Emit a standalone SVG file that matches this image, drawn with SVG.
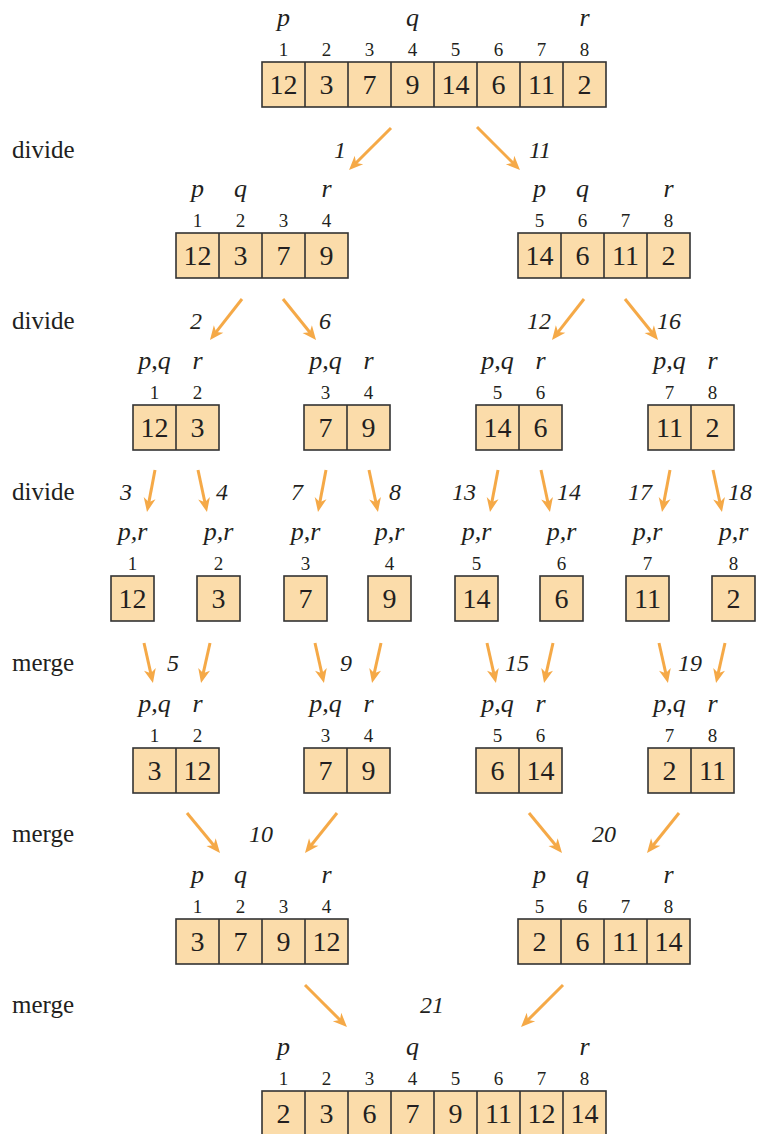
<svg xmlns="http://www.w3.org/2000/svg" width="757" height="1134" viewBox="0 0 757 1134" font-family="Liberation Serif">
<style>
text{fill:#231f20}
.v{font-size:28px;text-anchor:middle}
.i{font-size:19px;text-anchor:middle}
.l{font-size:26px;font-style:italic;text-anchor:middle}
.s{font-size:24px;font-style:italic;text-anchor:middle}
.side{font-size:25px}
.box{fill:#fbdcaa;stroke:#333;stroke-width:1.6}
.dv{stroke:#333;stroke-width:1.6}
.arr{stroke:#f5a947;stroke-width:3;fill:none;marker-end:url(#ah)}
</style>
<defs>
<marker id="ah" markerUnits="userSpaceOnUse" markerWidth="20" markerHeight="20" viewBox="-10 -10 20 20" refX="0" refY="0" orient="auto">
<path d="M-6,-6 L8,0 L-6,6 L-2,0 Z" fill="#f5a947"/>
</marker>
</defs>
<rect width="757" height="1134" fill="#fff"/>
<g id="side-labels">
<text class="side" x="12" y="158">divide</text>
<text class="side" x="12" y="329">divide</text>
<text class="side" x="12" y="500">divide</text>
<text class="side" x="12" y="671">merge</text>
<text class="side" x="12" y="842">merge</text>
<text class="side" x="12" y="1013">merge</text>
</g>
<g id="connectors">
<path class="arr" d="M391,128 L354.7,164.3"/>
<path class="arr" d="M477,127 L514.3,164.3"/>
<path class="arr" d="M242,299 L214.9,333.7"/>
<path class="arr" d="M283,299 L311,333.8"/>
<path class="arr" d="M584,299 L556.9,333.7"/>
<path class="arr" d="M625,299 L653,333.8"/>
<path class="arr" d="M155,470 L148.5,504.1"/>
<path class="arr" d="M198,470 L205.3,504.2"/>
<path class="arr" d="M326,470 L319.5,504.1"/>
<path class="arr" d="M369,470 L376.3,504.2"/>
<path class="arr" d="M498,470 L491.5,504.1"/>
<path class="arr" d="M541,470 L548.3,504.2"/>
<path class="arr" d="M670,470 L663.5,504.1"/>
<path class="arr" d="M713,470 L720.3,504.2"/>
<path class="arr" d="M144,643 L151.2,675.2"/>
<path class="arr" d="M210,643 L202.8,675.2"/>
<path class="arr" d="M315,643 L322.2,675.2"/>
<path class="arr" d="M381,643 L373.8,675.2"/>
<path class="arr" d="M487,643 L494.2,675.2"/>
<path class="arr" d="M553,643 L545.8,675.2"/>
<path class="arr" d="M659,643 L666.2,675.2"/>
<path class="arr" d="M725,643 L717.8,675.2"/>
<path class="arr" d="M187,813 L214.9,846.8"/>
<path class="arr" d="M337,813 L310,846.8"/>
<path class="arr" d="M529,813 L556.9,846.8"/>
<path class="arr" d="M679,813 L652,846.8"/>
<path class="arr" d="M305,985 L341.3,1021.3"/>
<path class="arr" d="M563,985 L526.7,1021.3"/>
<g id="step-labels">
<text class="s" x="340" y="158">1</text><text class="s" x="540" y="158">11</text>
<text class="s" x="196" y="329">2</text><text class="s" x="325" y="329">6</text><text class="s" x="539" y="329">12</text><text class="s" x="669" y="329">16</text>
<text class="s" x="126" y="500">3</text><text class="s" x="222" y="500">4</text><text class="s" x="297" y="500">7</text><text class="s" x="395" y="500">8</text>
<text class="s" x="464" y="500">13</text><text class="s" x="569" y="500">14</text><text class="s" x="640" y="500">17</text><text class="s" x="740" y="500">18</text>
<text class="s" x="173" y="671">5</text><text class="s" x="346" y="671">9</text><text class="s" x="517" y="671">15</text><text class="s" x="690" y="671">19</text>
<text class="s" x="261" y="842">10</text><text class="s" x="604" y="842">20</text><text class="s" x="432" y="1013">21</text>
</g>
</g>

<g id="a0">
<text class="l" x="283.5" y="26">p</text><text class="l" x="412.5" y="26">q</text><text class="l" x="584.5" y="26">r</text>
<text class="i" x="283.5" y="56">1</text><text class="i" x="326.5" y="56">2</text><text class="i" x="369.5" y="56">3</text><text class="i" x="412.5" y="56">4</text><text class="i" x="455.5" y="56">5</text><text class="i" x="498.5" y="56">6</text><text class="i" x="541.5" y="56">7</text><text class="i" x="584.5" y="56">8</text>
<rect class="box" x="262" y="62" width="344" height="45"/>
<path class="dv" d="M305,62V107M348,62V107M391,62V107M434,62V107M477,62V107M520,62V107M563,62V107"/>
<text class="v" x="283.5" y="94">12</text><text class="v" x="326.5" y="94">3</text><text class="v" x="369.5" y="94">7</text><text class="v" x="412.5" y="94">9</text><text class="v" x="455.5" y="94">14</text><text class="v" x="498.5" y="94">6</text><text class="v" x="541.5" y="94">11</text><text class="v" x="584.5" y="94">2</text>
</g>

<g id="a1L">
<text class="l" x="197.5" y="197">p</text><text class="l" x="240.5" y="197">q</text><text class="l" x="326.5" y="197">r</text>
<text class="i" x="197.5" y="227">1</text><text class="i" x="240.5" y="227">2</text><text class="i" x="283.5" y="227">3</text><text class="i" x="326.5" y="227">4</text>
<rect class="box" x="176" y="233" width="172" height="45"/>
<path class="dv" d="M219,233V278M262,233V278M305,233V278"/>
<text class="v" x="197.5" y="265">12</text><text class="v" x="240.5" y="265">3</text><text class="v" x="283.5" y="265">7</text><text class="v" x="326.5" y="265">9</text>
</g>
<g id="a1R">
<text class="l" x="539.5" y="197">p</text><text class="l" x="582.5" y="197">q</text><text class="l" x="668.5" y="197">r</text>
<text class="i" x="539.5" y="227">5</text><text class="i" x="582.5" y="227">6</text><text class="i" x="625.5" y="227">7</text><text class="i" x="668.5" y="227">8</text>
<rect class="box" x="518" y="233" width="172" height="45"/>
<path class="dv" d="M561,233V278M604,233V278M647,233V278"/>
<text class="v" x="539.5" y="265">14</text><text class="v" x="582.5" y="265">6</text><text class="v" x="625.5" y="265">11</text><text class="v" x="668.5" y="265">2</text>
</g>

<g id="a2-1">
<text class="l" x="154.5" y="369">p,q</text><text class="l" x="197.5" y="369">r</text>
<text class="i" x="154.5" y="399">1</text><text class="i" x="197.5" y="399">2</text>
<rect class="box" x="133" y="405" width="86" height="45"/><path class="dv" d="M176,405V450"/>
<text class="v" x="154.5" y="437">12</text><text class="v" x="197.5" y="437">3</text>
</g>
<g id="a2-2">
<text class="l" x="325.5" y="369">p,q</text><text class="l" x="368.5" y="369">r</text>
<text class="i" x="325.5" y="399">3</text><text class="i" x="368.5" y="399">4</text>
<rect class="box" x="304" y="405" width="86" height="45"/><path class="dv" d="M347,405V450"/>
<text class="v" x="325.5" y="437">7</text><text class="v" x="368.5" y="437">9</text>
</g>
<g id="a2-3">
<text class="l" x="497.5" y="369">p,q</text><text class="l" x="540.5" y="369">r</text>
<text class="i" x="497.5" y="399">5</text><text class="i" x="540.5" y="399">6</text>
<rect class="box" x="476" y="405" width="86" height="45"/><path class="dv" d="M519,405V450"/>
<text class="v" x="497.5" y="437">14</text><text class="v" x="540.5" y="437">6</text>
</g>
<g id="a2-4">
<text class="l" x="669.5" y="369">p,q</text><text class="l" x="712.5" y="369">r</text>
<text class="i" x="669.5" y="399">7</text><text class="i" x="712.5" y="399">8</text>
<rect class="box" x="648" y="405" width="86" height="45"/><path class="dv" d="M691,405V450"/>
<text class="v" x="669.5" y="437">11</text><text class="v" x="712.5" y="437">2</text>
</g>

<g id="a3-1"><text class="l" x="132.5" y="540">p,r</text><text class="i" x="132.5" y="570">1</text><rect class="box" x="111" y="576" width="43" height="45"/><text class="v" x="132.5" y="608">12</text></g>
<g id="a3-2"><text class="l" x="218.5" y="540">p,r</text><text class="i" x="218.5" y="570">2</text><rect class="box" x="197" y="576" width="43" height="45"/><text class="v" x="218.5" y="608">3</text></g>
<g id="a3-3"><text class="l" x="305.5" y="540">p,r</text><text class="i" x="305.5" y="570">3</text><rect class="box" x="284" y="576" width="43" height="45"/><text class="v" x="305.5" y="608">7</text></g>
<g id="a3-4"><text class="l" x="389.5" y="540">p,r</text><text class="i" x="389.5" y="570">4</text><rect class="box" x="368" y="576" width="43" height="45"/><text class="v" x="389.5" y="608">9</text></g>
<g id="a3-5"><text class="l" x="476.5" y="540">p,r</text><text class="i" x="476.5" y="570">5</text><rect class="box" x="455" y="576" width="43" height="45"/><text class="v" x="476.5" y="608">14</text></g>
<g id="a3-6"><text class="l" x="561.5" y="540">p,r</text><text class="i" x="561.5" y="570">6</text><rect class="box" x="540" y="576" width="43" height="45"/><text class="v" x="561.5" y="608">6</text></g>
<g id="a3-7"><text class="l" x="647.5" y="540">p,r</text><text class="i" x="647.5" y="570">7</text><rect class="box" x="626" y="576" width="43" height="45"/><text class="v" x="647.5" y="608">11</text></g>
<g id="a3-8"><text class="l" x="733.5" y="540">p,r</text><text class="i" x="733.5" y="570">8</text><rect class="box" x="712" y="576" width="43" height="45"/><text class="v" x="733.5" y="608">2</text></g>

<g id="a4-1">
<text class="l" x="154.5" y="712">p,q</text><text class="l" x="197.5" y="712">r</text>
<text class="i" x="154.5" y="742">1</text><text class="i" x="197.5" y="742">2</text>
<rect class="box" x="133" y="748" width="86" height="45"/><path class="dv" d="M176,748V793"/>
<text class="v" x="154.5" y="780">3</text><text class="v" x="197.5" y="780">12</text>
</g>
<g id="a4-2">
<text class="l" x="325.5" y="712">p,q</text><text class="l" x="368.5" y="712">r</text>
<text class="i" x="325.5" y="742">3</text><text class="i" x="368.5" y="742">4</text>
<rect class="box" x="304" y="748" width="86" height="45"/><path class="dv" d="M347,748V793"/>
<text class="v" x="325.5" y="780">7</text><text class="v" x="368.5" y="780">9</text>
</g>
<g id="a4-3">
<text class="l" x="497.5" y="712">p,q</text><text class="l" x="540.5" y="712">r</text>
<text class="i" x="497.5" y="742">5</text><text class="i" x="540.5" y="742">6</text>
<rect class="box" x="476" y="748" width="86" height="45"/><path class="dv" d="M519,748V793"/>
<text class="v" x="497.5" y="780">6</text><text class="v" x="540.5" y="780">14</text>
</g>
<g id="a4-4">
<text class="l" x="669.5" y="712">p,q</text><text class="l" x="712.5" y="712">r</text>
<text class="i" x="669.5" y="742">7</text><text class="i" x="712.5" y="742">8</text>
<rect class="box" x="648" y="748" width="86" height="45"/><path class="dv" d="M691,748V793"/>
<text class="v" x="669.5" y="780">2</text><text class="v" x="712.5" y="780">11</text>
</g>

<g id="a5L">
<text class="l" x="197.5" y="883">p</text><text class="l" x="240.5" y="883">q</text><text class="l" x="326.5" y="883">r</text>
<text class="i" x="197.5" y="913">1</text><text class="i" x="240.5" y="913">2</text><text class="i" x="283.5" y="913">3</text><text class="i" x="326.5" y="913">4</text>
<rect class="box" x="176" y="919" width="172" height="45"/>
<path class="dv" d="M219,919V964M262,919V964M305,919V964"/>
<text class="v" x="197.5" y="951">3</text><text class="v" x="240.5" y="951">7</text><text class="v" x="283.5" y="951">9</text><text class="v" x="326.5" y="951">12</text>
</g>
<g id="a5R">
<text class="l" x="539.5" y="883">p</text><text class="l" x="582.5" y="883">q</text><text class="l" x="668.5" y="883">r</text>
<text class="i" x="539.5" y="913">5</text><text class="i" x="582.5" y="913">6</text><text class="i" x="625.5" y="913">7</text><text class="i" x="668.5" y="913">8</text>
<rect class="box" x="518" y="919" width="172" height="45"/>
<path class="dv" d="M561,919V964M604,919V964M647,919V964"/>
<text class="v" x="539.5" y="951">2</text><text class="v" x="582.5" y="951">6</text><text class="v" x="625.5" y="951">11</text><text class="v" x="668.5" y="951">14</text>
</g>

<g id="a6">
<text class="l" x="283.5" y="1055">p</text><text class="l" x="412.5" y="1055">q</text><text class="l" x="584.5" y="1055">r</text>
<text class="i" x="283.5" y="1085">1</text><text class="i" x="326.5" y="1085">2</text><text class="i" x="369.5" y="1085">3</text><text class="i" x="412.5" y="1085">4</text><text class="i" x="455.5" y="1085">5</text><text class="i" x="498.5" y="1085">6</text><text class="i" x="541.5" y="1085">7</text><text class="i" x="584.5" y="1085">8</text>
<rect class="box" x="262" y="1091" width="344" height="45"/>
<path class="dv" d="M305,1091V1136M348,1091V1136M391,1091V1136M434,1091V1136M477,1091V1136M520,1091V1136M563,1091V1136"/>
<text class="v" x="283.5" y="1123">2</text><text class="v" x="326.5" y="1123">3</text><text class="v" x="369.5" y="1123">6</text><text class="v" x="412.5" y="1123">7</text><text class="v" x="455.5" y="1123">9</text><text class="v" x="498.5" y="1123">11</text><text class="v" x="541.5" y="1123">12</text><text class="v" x="584.5" y="1123">14</text>
</g>
</svg>
